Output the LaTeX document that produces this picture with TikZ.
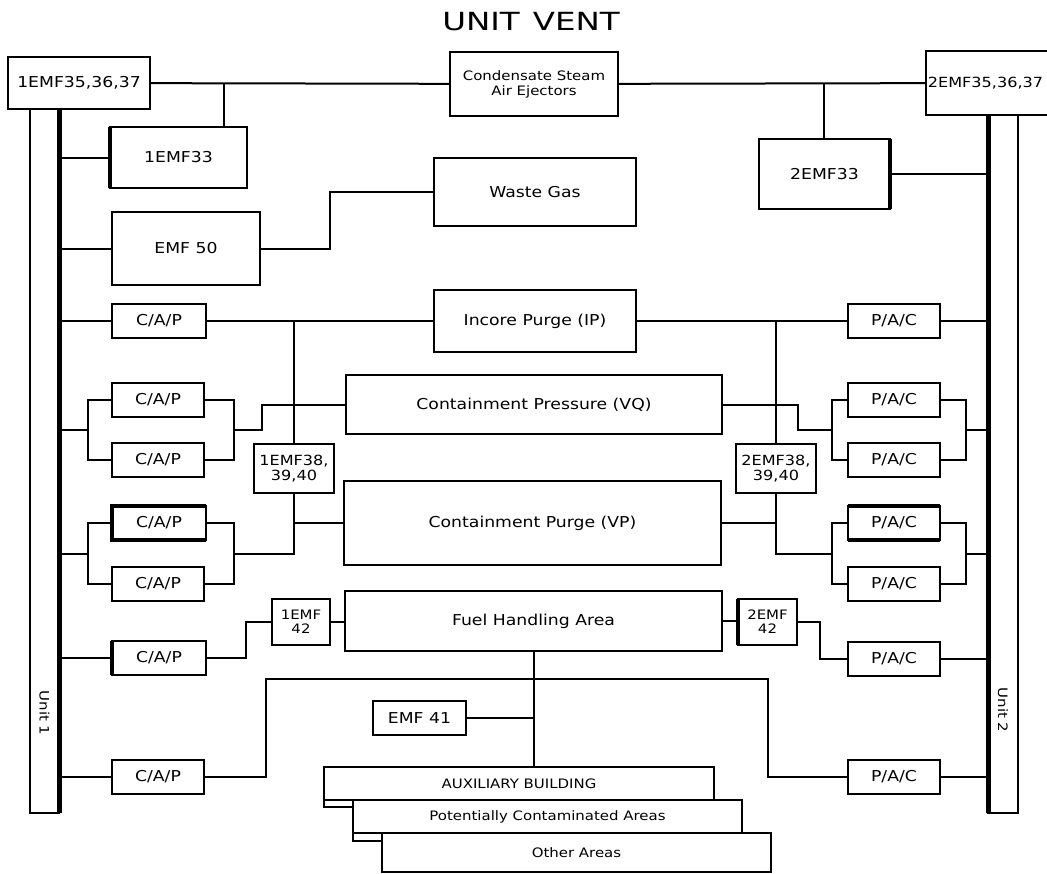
\documentclass[tikz,border=0pt]{standalone}
\usepackage{fontspec}
\setmainfont[FakeStretch=1.15]{DejaVu Sans}
\newfontfamily\titlefont{DejaVu Sans}
\usetikzlibrary{calc}
\newcommand\bx[7][]{\node[box,minimum width={(#5)-(#3)},minimum height={(#6)-(#4)},#1] (#2) at ({((#3)+(#5))/2},{((#4)+(#6))/2}) {#7};}
\begin{document}
\begin{tikzpicture}[x=1pt,y=-1pt,line width=2pt,
  box/.style={draw,fill=white,inner sep=1pt,outer sep=0pt,align=center,font=\fontsize{15}{17}\selectfont},
  small/.style={font=\fontsize{13}{15}\selectfont},
  mid/.style={font=\fontsize{14}{15}\selectfont},
  tiny/.style={font=\fontsize{13}{14}\selectfont},
  thickedge/.style={line width=4pt},
  busline/.style={line width=5pt}]
\useasboundingbox (0,0) rectangle (1047,873);
\node[font=\titlefont\fontsize{25}{28}\selectfont] (title) at (531,22) {\scalebox{1.3}[1]{UNIT}\hspace{13pt}\scalebox{1.3}[1]{VENT}};
% top row
\bx{e1}{8}{57}{150}{109}{1EMF35,36,37}
\bx[small]{cond}{450}{52}{618}{116}{Condensate Steam\\Air Ejectors}
\bx[mid]{e2}{926}{51}{1062}{115}{\hspace*{-17pt}2EMF35,36,37}
\bx{u1}{30}{109}{59}{813}{}
\bx{u2}{988}{115}{1018}{813}{}
\node[rotate=-90,font=\fontsize{13}{15}\selectfont] (u1t) at (44.5,713) {Unit 1};
\node[rotate=-90,font=\fontsize{13}{15}\selectfont] (u2t) at (1003,710) {Unit 2};
\bx{emf33a}{110}{127}{247}{188}{1EMF33}
\bx{emf50}{112}{212}{260}{285}{EMF 50}
\bx{waste}{434}{158}{636}{226}{Waste Gas}
\bx{emf33b}{759}{139}{890}{209}{2EMF33}
% incore purge row
\bx{ip}{434}{290}{636}{352}{Incore Purge (IP)}
\bx{capA}{112}{304}{206}{338}{C/A/P}
\bx{pacA}{848}{304}{940}{338}{P/A/C}
% containment pressure
\bx{vq}{346}{375}{722}{434}{Containment Pressure (VQ)}
\bx{capB1}{112}{383}{204}{417}{C/A/P}
\bx{capB2}{112}{443}{204}{477}{C/A/P}
\bx{pacB1}{848}{383}{940}{417}{P/A/C}
\bx{pacB2}{848}{443}{940}{477}{P/A/C}
\bx[mid]{m1}{254}{444}{334}{493}{1EMF38,\\39,40}
\bx[mid]{m2}{736}{444}{816}{493}{2EMF38,\\39,40}
% containment purge
\bx{vp}{344}{481}{721}{565}{Containment Purge (VP)}
\bx{capC1}{112}{506}{206}{540}{C/A/P}
\bx{capC2}{112}{567}{204}{601}{C/A/P}
\bx{pacC1}{848}{506}{940}{540}{P/A/C}
\bx{pacC2}{848}{567}{940}{601}{P/A/C}
% fuel handling
\bx{fha}{345}{591}{722}{651}{Fuel Handling Area}
\bx[tiny]{f1}{272}{599}{330}{645}{1EMF\\42}
\bx[tiny]{f2}{738}{599}{797}{645}{2EMF\\42}
\bx{capD}{112}{641}{206}{675}{C/A/P}
\bx{pacD}{848}{642}{940}{676}{P/A/C}
% bottom
\bx{emf41}{373}{701}{466}{735}{EMF 41}
\bx{capE}{112}{760}{204}{794}{C/A/P}
\bx{pacE}{848}{760}{940}{794}{P/A/C}
\bx[small]{aux}{324}{767}{714}{800}{AUXILIARY BUILDING}
\bx[small]{pot}{353}{800}{742}{833}{Potentially Contaminated Areas}
\bx[small]{oth}{382}{833}{771}{872}{Other Areas}
% thick edges
\draw[busline] (u1.north east) -- (u1.south east);
\draw[busline] (u2.north west) -- (u2.south west);
\draw[thickedge] (emf33a.north west) -- (emf33a.south west);
\draw[thickedge] (emf33b.north east) -- (emf33b.south east);
\draw[thickedge] (capC1.north east) -- (capC1.north west) -- (capC1.south west) -- (capC1.south east);
\draw[thickedge] (pacC1.north west) -- (pacC1.north east);
\draw[thickedge] (pacC1.south west) -- (pacC1.south east);
\draw[thickedge] (capD.north west) -- (capD.south west);
\draw[thickedge] (f2.north west) -- (f2.south west);
% top connectors
\draw (e1) -- (cond);
\draw (cond) -- (e2);
\coordinate (t1) at (224,83);
\coordinate (t2) at (824,83);
\draw (t1) -- (t1 |- emf33a.north);
\draw (t2) -- (t2 |- emf33b.north);
\foreach \n in {emf33a,emf50,capA,capD,capE} \draw (\n.west) -- (\n.west -| u1.east);
\foreach \n in {emf33b,pacA,pacD,pacE} \draw (\n.east) -- (\n.east -| u2.west);
\draw (emf50.east) -- ++(70,0) |- (waste.west);
% incore purge
\draw (capA.east) -- (ip.west);
\draw (ip.east) -- (pacA.west);
\draw (m1.north) -- (m1.north |- ip.west);
\draw (m2.north) -- (m2.north |- ip.east);
% left pairs
\draw (capB1.west) -- ++(-24,0) |- (capB2.west);
\draw (capB1.east) -- ++(30,0) |- (capB2.east);
\coordinate (lbB) at ($(capB1.west)!.5!(capB2.west)+(-24,0)$);
\coordinate (rbB) at ($(capB1.east)!.5!(capB2.east)+(30,0)$);
\draw (lbB) -- (lbB -| u1.east);
\draw (rbB) -- ++(28,0) |- (vq.west);
\draw (capC1.west) -- ++(-24,0) |- (capC2.west);
\draw (capC1.east) -- ++(28,0) |- (capC2.east);
\coordinate (lbC) at ($(capC1.west)!.5!(capC2.west)+(-24,0)$);
\coordinate (rbC) at ($(capC1.east)!.5!(capC2.east)+(29,0)$);
\draw (lbC) -- (lbC -| u1.east);
\draw (rbC) -| (m1.south);
\draw (vp.west) -- (vp.west -| m1.south);
% right pairs
\draw (pacB1.west) -- ++(-16,0) |- (pacB2.west);
\draw (pacB1.east) -- ++(26,0) |- (pacB2.east);
\coordinate (lbB2) at ($(pacB1.west)!.5!(pacB2.west)+(-16,0)$);
\coordinate (rbB2) at ($(pacB1.east)!.5!(pacB2.east)+(26,0)$);
\draw (rbB2) -- (rbB2 -| u2.west);
\draw (lbB2) -- ++(-34,0) |- (vq.east);
\draw (pacC1.west) -- ++(-16,0) |- (pacC2.west);
\draw (pacC1.east) -- ++(26,0) |- (pacC2.east);
\coordinate (lbC2) at ($(pacC1.west)!.5!(pacC2.west)+(-16,0)$);
\coordinate (rbC2) at ($(pacC1.east)!.5!(pacC2.east)+(26,0)$);
\draw (rbC2) -- (rbC2 -| u2.west);
\draw (lbC2) -| (m2.south);
\draw (vp.east) -- (vp.east -| m2.south);
% fuel handling
\draw (f1.east) -- (f1.east -| fha.west);
\draw (f1.west) -- ++(-26,0) |- (capD.east);
\draw (fha.east) -- (fha.east -| f2.west);
\draw (f2.east) -- ++(23,0) |- (pacD.west);
% bottom
\coordinate (hl) at (266,679);
\coordinate (hr) at (768,679);
\draw (capE.east) -| (hl) -- (hr) |- (pacE.west);
\draw (fha.south) -- (fha.south |- aux.north);
\draw (emf41.east) -- (emf41.east -| fha.south);
\draw (aux.south west) -- ++(0,7) -| (pot.south west);
\draw (pot.south west) -- ++(0,8) -| (oth.south west);
\end{tikzpicture}
\end{document}
